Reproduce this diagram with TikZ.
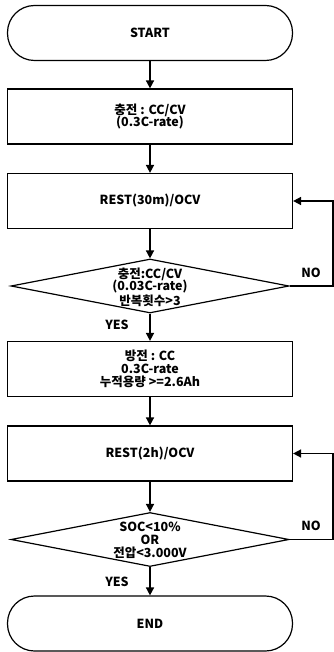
\documentclass[tikz,border=0pt]{standalone}
\usepackage{fontspec}
\setmainfont{Noto Sans CJK KR}
\usetikzlibrary{shapes.geometric,arrows.meta}
\begin{document}
\begin{tikzpicture}[x=1pt,y=-1pt,
  every node/.style={font=\bfseries\fontsize{12.5}{12.8}\selectfont, align=center},
  term/.style={draw, line width=1.2pt, rounded corners=27pt, minimum width=285pt, minimum height=55pt, inner sep=0pt},
  proc/.style={draw, line width=1.2pt, minimum width=285pt, minimum height=55pt, inner sep=0pt},
  dec/.style={draw, diamond, line width=1.2pt, minimum width=278pt, minimum height=54pt, inner sep=0pt},
  flow/.style={line width=1.6pt, -{Triangle[length=8pt,width=8pt]}},
  lbl/.style={inner sep=0pt}]
\useasboundingbox (0,0) rectangle (334,652);
\node[term] (start) at (150,33) {START};
\node[proc] (b1) at (150,116.5) {충전 : CC/CV\\(0.3C-rate)};
\node[proc] (b2) at (150,201) {REST(30m)/OCV};
\node[dec] (d1) at (150,286) {};
\node (d1t) at (150,287) {충전:CC/CV\\(0.03C-rate)\\반복횟수>3};
\node[proc] (b3) at (150,369) {방전 : CC\\0.3C-rate\\누적용량 >=2.6Ah};
\node[proc] (b4) at (150,453.5) {REST(2h)/OCV};
\node[dec] (d2) at (150,539.5) {};
\node (d2t) at (150,540.5) {SOC<10\%\\OR\\전압<3.000V};
\node[term] (end) at (150,623.5) {END};
\node[lbl] (yes1) at (117,325) {YES};
\node[lbl] (yes2) at (117,582) {YES};
\node[lbl] (no1) at (311,273) {NO};
\node[lbl] (no2) at (311,526) {NO};
\coordinate (c1) at (333,286);
\coordinate (c2) at (333,539.5);
\draw[flow] (start) -- (b1);
\draw[flow] (b1) -- (b2);
\draw[flow] (b2) -- (d1.north);
\draw[flow] (d1.south) -- (b3);
\draw[flow] (b3) -- (b4);
\draw[flow] (b4) -- (d2.north);
\draw[flow] (d2.south) -- (end);
\draw[flow] (d1.east) -- (c1) |- (b2.east);
\draw[flow] (d2.east) -- (c2) |- (b4.east);
\end{tikzpicture}
\end{document}
